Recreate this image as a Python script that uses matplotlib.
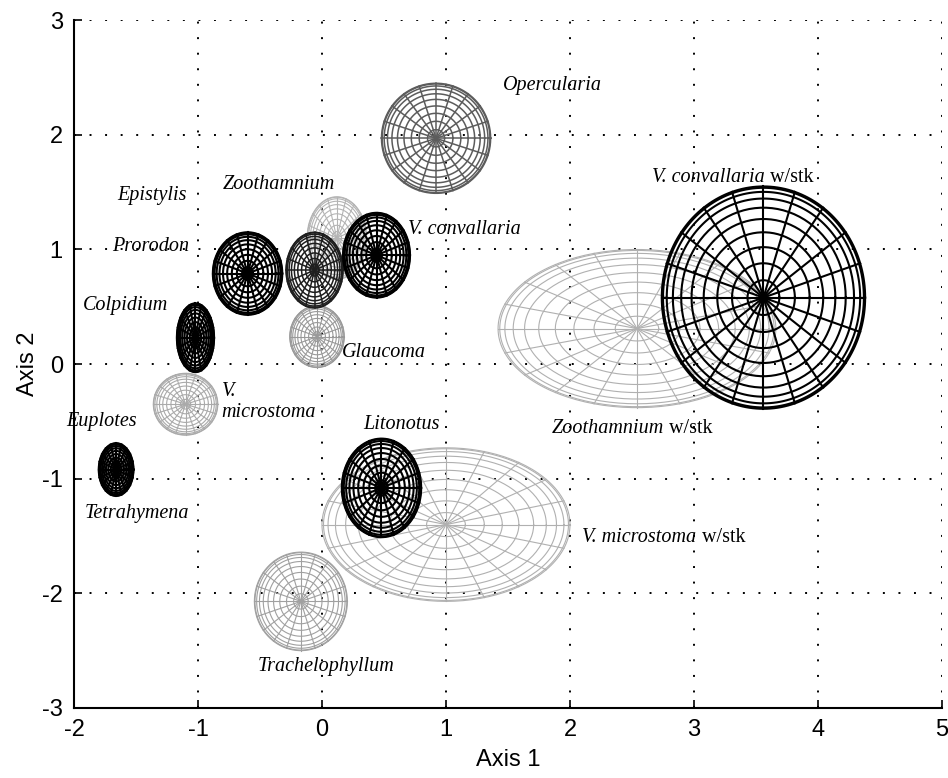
import numpy as np
import matplotlib
matplotlib.use('Agg')
import matplotlib.pyplot as plt

plt.rcParams['axes.unicode_minus'] = False

# ellipsoid centres and semi axes (axis 1, axis 2)
names = ['Zoothamnium w/stk', 'V. microstoma w/stk', 'Zoothamnium', 'Glaucoma',
         'V. microstoma', 'Trachelophyllum', 'Opercularia', 'Epistylis',
         'Prorodon', 'V. convallaria', 'Colpidium', 'Tetrahymena', 'Litonotus',
         'V. convallaria w/stk']
cx = [2.54, 1.00, 0.12, -0.04, -1.10, -0.17, 0.92, -0.06, -0.60, 0.44, -1.02, -1.66, 0.48, 3.56]
cy = [0.31, -1.40, 1.10, 0.24, -0.35, -2.07, 1.97, 0.82, 0.79, 0.95, 0.23, -0.92, -1.08, 0.58]
rx = [1.12, 1.00, 0.24, 0.22, 0.26, 0.375, 0.44, 0.23, 0.28, 0.27, 0.15, 0.14, 0.32, 0.82]
ry = [0.69, 0.67, 0.36, 0.27, 0.27, 0.43, 0.48, 0.33, 0.36, 0.37, 0.30, 0.23, 0.43, 0.97]
shade = ['#b0b0b0', '#b0b0b0', '#b4b4b4', '#999999', '#aaaaaa', '#a0a0a0', '#5c5c5c',
         '#1e1e1e', 'k', 'k', 'k', 'k', 'k', 'k']

# labels: italic part, plain suffix, x, y
lab_text = ['Opercularia', 'V. convallaria', 'Epistylis', 'Zoothamnium',
            'Prorodon', 'V. convallaria', 'Colpidium', 'Glaucoma', 'V.\nmicrostoma',
            'Euplotes', 'Tetrahymena', 'Litonotus', 'Zoothamnium',
            'V. microstoma', 'Trachelophyllum']
lab_suffix = ['', ' w/stk', '', '', '', '', '', '', '', '', '', '', ' w/stk', ' w/stk', '']
lab_x = [1.46, 2.66, -1.65, -0.80, -1.69, 0.69, -1.93, 0.16, -0.81, -2.06, -1.91, 0.33, 1.85, 2.10, -0.52]
lab_y = [2.43, 1.63, 1.47, 1.57, 1.03, 1.17, 0.51, 0.10, -0.33, -0.50, -1.30, -0.53, -0.56, -1.51, -2.64]


def mesh_ellipse(ax, x0, y0, a, b, color):
    # ellipsoid seen from above: 20 meridians, latitude rings every 9 deg
    t = np.linspace(0, 2 * np.pi, 181)
    if color == 'k':
        lw = 1.5
    elif color in ('#1e1e1e', '#5c5c5c'):
        lw = 1.1
    else:
        lw = 0.8
    for k in range(1, 11):
        r = np.sin(np.radians(9 * k))
        ax.plot(x0 + a * r * np.cos(t), y0 + b * r * np.sin(t), color=color, lw=lw)
    for k in range(20):
        ang = 2 * np.pi * k / 20
        ax.plot([x0, x0 + a * np.cos(ang)], [y0, y0 + b * np.sin(ang)], color=color, lw=lw)


fig = plt.figure(figsize=(9.48, 7.78), dpi=100)
ax = fig.add_axes([0.078, 0.090, 0.9157, 0.884])

for i in range(len(names)):
    mesh_ellipse(ax, cx[i], cy[i], rx[i], ry[i], shade[i])

for t, s, x, y in zip(lab_text, lab_suffix, lab_x, lab_y):
    txt = ax.text(x, y, t, fontsize=14.5, family='Liberation Serif', style='italic',
                  va='center', ha='left', linespacing=1.1)
    if s:
        ax.annotate(s, xy=(1, 0), xycoords=txt, va='bottom', ha='left',
                    fontsize=14.5, family='Liberation Serif')

ax.set_xlim(-2, 5)
ax.set_ylim(-3, 3)
ax.set_xticks(range(-2, 6))
ax.set_yticks(range(-3, 4))
ax.grid(True, color='k', linestyle=(0, (1, 7)), lw=1.4)
ax.set_axisbelow(True)
for s in ['top', 'right']:
    ax.spines[s].set_visible(False)
for s in ['left', 'bottom']:
    ax.spines[s].set_linewidth(1.5)
ax.tick_params(direction='in', length=6, width=1.2, labelsize=17, pad=8)
for lab in ax.get_xticklabels() + ax.get_yticklabels():
    lab.set_family('Liberation Sans')
ax.set_xlabel('Axis 1', fontsize=17, family='Liberation Sans', labelpad=6)
ax.set_ylabel('Axis 2', fontsize=17, family='Liberation Sans', labelpad=2)

fig.savefig('out.png', dpi=100)
